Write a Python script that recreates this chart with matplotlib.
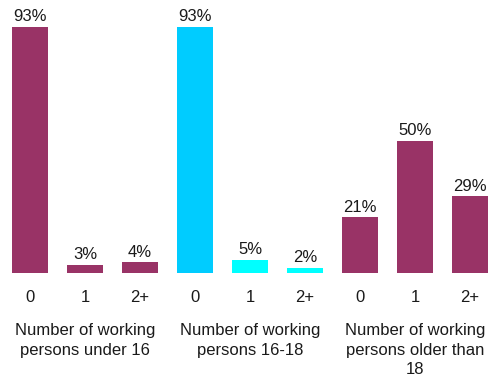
import matplotlib.pyplot as plt
from matplotlib.transforms import blended_transform_factory

plt.rcParams['font.family'] = ['Liberation Sans', 'DejaVu Sans']

tick_labels = ['0', '1', '2+', '0', '1', '2+', '0', '1', '2+']
values = [93, 3, 4, 93, 5, 2, 21, 50, 29]
colors = ['#993366', '#993366', '#993366',
          '#00CCFF', '#00FFFF', '#00FFFF',
          '#993366', '#993366', '#993366']
group_labels = ['Number of working\npersons under 16',
                'Number of working\npersons 16-18',
                'Number of working\npersons older than\n18']

fig = plt.figure(figsize=(4.88, 3.81), dpi=100)
ax = fig.add_axes([0, 108 / 381, 1, 1 - 108 / 381])

x = list(range(len(values)))
ax.bar(x, values, width=0.67, color=colors)
for xi, v in zip(x, values):
    ax.text(xi, v + 1.0, f'{v}%', ha='center', va='bottom', fontsize=12, color='#1a1a1a')

ax.set_xlim(-30 / 55, 458 / 55)
ax.set_ylim(0, 273 / 2.645)
ax.axis('off')

trans = blended_transform_factory(ax.transData, fig.transFigure)
for xi, lab in zip(x, tick_labels):
    ax.text(xi, 1 - 298 / 381, lab, ha='center', va='center', fontsize=12,
            color='#1a1a1a', transform=trans)
for i, lab in enumerate(group_labels):
    ax.text(3 * i + 1, 1 - 323 / 381, lab, ha='center', va='top', fontsize=12,
            color='#1a1a1a', linespacing=1.38, transform=trans)

fig.savefig('out.png', dpi=100)
